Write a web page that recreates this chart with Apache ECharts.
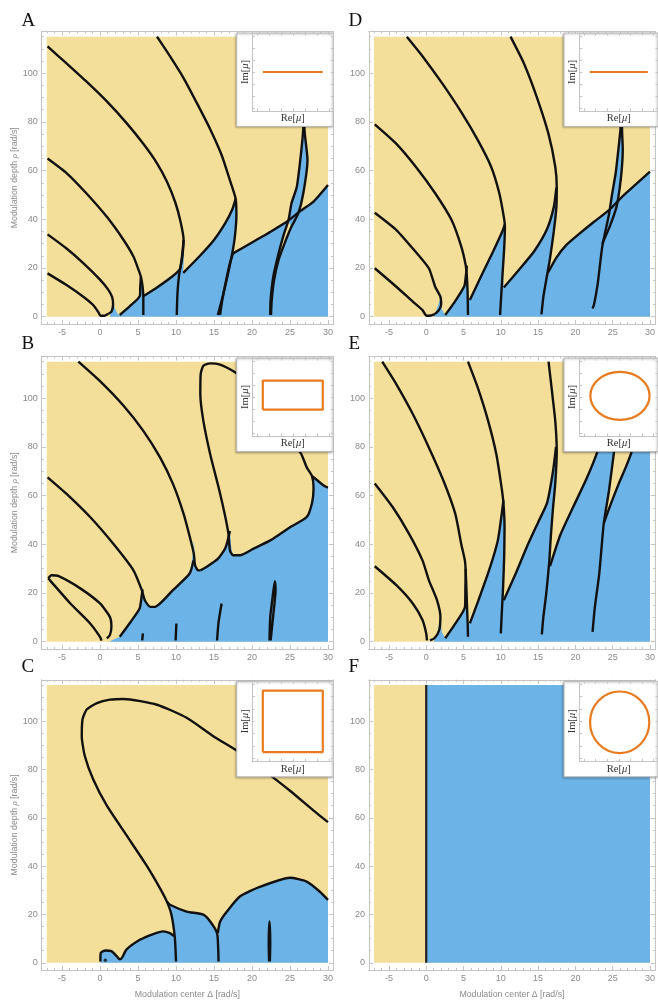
<!DOCTYPE html>
<html><head><meta charset="utf-8">
<script src="https://cdn.jsdelivr.net/npm/echarts@6/dist/echarts.min.js"></script>
<style>html,body{margin:0;padding:0;background:#fff}#c{width:658px;height:1000px}</style>
</head><body><div id="c"></div>
<script>
// ---------- tick labels ----------
const xTicks = [-5, 0, 5, 10, 15, 20, 25, 30];
const yTicks = [0, 20, 40, 60, 80, 100];
const insetTicks = [-1.2, -0.8, -0.4, 0, 0.4, 0.8, 1.2];
const fieldRect = [[-7, 0], [30, 0], [30, 115], [-7, 115]];

// ---------- panel A ----------
const blueA = [[1.3,0],[1.55,4],[1.72,7.5],[1.9,4],[2.3,1.2],[2.6,0.7],[3.9,4.2],[5.25,8.6],[5.3,12.5],[5.38,16.4],[5.6,12.5],[5.75,8.5],[7.5,12],[9.5,16.5],[10.5,19.5],[10.8,25],[11.0,31.5],[11.05,25],[10.95,18],[13,24.5],[15,31.5],[16.5,38.5],[17.4,44],[17.85,48.5],[17.95,42],[17.75,33],[17.5,26],[20,30.5],[22.5,35],[24.8,39.5],[25.2,46.6],[25.9,53.4],[26.5,68.5],[26.75,77.4],[26.8,85],[27.0,85],[26.9,77.4],[27.3,64.4],[26.75,50.7],[26.4,43.5],[28.1,47.3],[30,54.1],[30,0]];
const lensA = [[23.3,22],[23.6,26.5],[24.1,32.9],[24.75,39.2],[25.2,37],[24.3,30.2],[23.6,24]];
const a1 = [[-6.9,17.8],[-4.4,13],[-2.2,8.2],[-0.9,4.8],[-0.2,1.8],[0.05,0.4],[0.6,0.4],[1.1,1.2]];
const a2 = [[-6.9,33.8],[-4.4,28],[-2.2,22],[0,15.2],[1.1,11],[1.6,8],[1.72,5],[1.5,2],[1.1,1.2]];
const a3 = [[-6.9,65],[-4.4,59],[-1.8,50.7],[0.9,41],[3.1,31.5],[4.4,24.7],[5.1,19],[5.38,16.4],[5.6,12.5],[5.7,8],[5.7,0.7]];
const a4 = [[-6.9,111],[-4.4,104],[-1.8,96.6],[0.9,88.4],[3.5,79.5],[5.7,71],[7.5,63],[8.8,55.5],[9.9,47],[10.6,39],[11.0,31.5],[10.8,24],[10.4,17],[10.2,10],[10.1,0.7]];
const a5 = [[7.5,115],[9.2,107],[11,98],[12.7,88],[14.5,77],[16,66.4],[17.1,56],[17.85,48.5],[17.95,42],[17.75,33],[17.4,26],[16.8,17],[16.2,9],[15.7,3],[15.5,0.7]];
const a5b = [[15.8,0.7],[16.1,7],[16.6,15],[17.1,22],[17.5,26]];
const a6a = [[2.6,0.7],[3.9,4.2],[5.25,8.6],[5.3,12.5],[5.38,16.4]];
const a6b = [[5.75,8.5],[7.5,12],[9.5,16.5],[10.5,19.5],[10.8,25],[11.0,31.5]];
const a6c = [[10.95,18],[13,24.5],[15,31.5],[16.5,38.5],[17.4,44],[17.85,48.5]];
const a6d = [[17.5,26],[20,30.5],[22.5,35],[24.8,39.5],[26.4,43.5],[28.1,47.3],[30,54.1]];
const a7 = [[26.8,85],[26.75,77.4],[26.5,68.5],[25.9,53.4],[25.2,46.6],[24.8,39.7],[24.1,32.9],[23.5,26],[22.8,16.4],[22.45,6.9],[22.4,0.7]];
const a8 = [[27.0,85],[26.9,77.4],[27.3,64.4],[26.75,50.7],[26.1,42.5],[25.2,37],[24.3,30.2],[23.5,23.3],[22.9,15],[22.6,6.9],[22.5,0.7]];

// ---------- panel B ----------
const blueB = [[1.2,0],[2.0,1.2],[2.6,2],[4.0,8],[5.2,13.5],[5.45,18],[5.6,21.5],[5.8,18],[6.0,16],[6.6,14.3],[7.2,14.3],[9.6,21.2],[11.5,27],[12.0,31],[12.2,36],[12.35,41.6],[12.45,36],[12.5,31.5],[12.8,29.5],[13.2,29.3],[14,30.7],[15.5,34],[16.5,38.5],[17.0,43],[17.1,45.5],[17.2,41],[17.35,37],[17.7,35.3],[18.4,35.5],[20.2,38.2],[22.4,41.6],[25,47],[27.2,51.2],[27.9,57],[28.1,63],[27.9,68],[28.5,66.5],[29.6,63.8],[30,63.3],[30,0]];
const lensB = [[22.7,15],[22.95,24],[23.05,19],[22.9,15]];
const b1 = [[-2.85,115],[0,107],[3.1,96.9],[5.7,86.6],[7.9,75.7],[9.6,64.8],[11,52.5],[11.9,42],[12.35,36],[12.5,31.5],[12.9,29.3],[13.2,29.3]];
const b2 = [[19,108],[17.5,111.2],[15.8,113.8],[14.5,114.3],[13.6,113.3],[13.25,110],[13.2,101.6],[13.6,90.7],[14.5,77],[15.6,63.4],[16.4,52.5],[16.9,44.3],[17.1,37.5],[17.5,35.5],[18.4,35.5],[20.2,38.2],[22.4,41.6],[25,47],[27.2,51.2],[27.9,57],[28.1,63],[27.9,68],[27.2,71.6],[26.5,77],[25.8,80]];
const b3 = [[-6.9,67.5],[-4.4,60.7],[-1.3,51.2],[1.75,40.2],[4.4,29.3],[5.5,21.2],[5.9,17],[6.6,14.3],[7.2,14.3],[9.6,21.2],[11.8,28],[12.3,33.4]];
const bRight = [[27.9,68],[28.5,66.5],[29.6,63.8],[30,63.3]];
const bDiag1 = [[2.6,2],[4.0,8],[5.2,13.5],[5.45,18],[5.6,21.5]];
const bDiag2 = [[13.2,29.3],[14,30.7],[15.5,34],[16.5,38.5],[17.1,45.5]];
const bLoopU = [[-6.8,26],[-6.4,27.3],[-5.5,27],[-2.6,21.9],[0,15.7],[1.3,10.2],[1.5,6.1],[1.3,2.7],[0.9,1.4]];
const bLoopL = [[-6.8,26],[-6.6,25.3],[-3.9,15.7],[-1.3,7.5],[0,2],[0.2,0.4]];
const bSeg1 = [[5.55,0.5],[5.65,3.4]];
const bSeg2 = [[9.95,0.5],[10.05,7.5]];
const bSeg3 = [[15.4,0.5],[15.6,8],[16,15.7]];
const bLens = [[22.3,0.5],[22.4,10],[22.7,18],[23.0,24.8],[23.1,21],[22.9,14],[22.6,5],[22.45,0.5]];

// ---------- panel C ----------
const blueC = [[0.05,0],[0.1,4.1],[0.7,5.1],[1.5,4.8],[2.2,2.7],[2.6,1.4],[2.9,2.1],[3.5,5.5],[5.3,9.6],[7,11.9],[8.3,13],[9.2,12.3],[9.75,11],[9.4,19.9],[8.8,25.3],[9.2,24],[11.4,21.2],[13.6,19.9],[14.5,17.1],[15.4,12.3],[15.6,11.6],[15.8,17],[16.7,21.2],[18.4,27.4],[21.1,31.5],[25,35.2],[27.2,33.6],[28.9,29.5],[30,26],[30,0]];
const c1 = [[30,58.2],[28.1,63],[25,71.2],[21.9,78.8],[18.4,87],[14.9,93.8],[11.4,101.4],[7.5,106.8],[3.1,109.2],[1.3,108.9],[-0.4,107.5],[-1.75,104.8],[-2.3,100.7],[-2.4,93.8],[-2,85.6],[-0.9,76],[0.9,65],[3.5,52.7],[6.1,40.4],[7.9,30.8],[8.8,25.3],[9.4,19.9],[9.85,10.3],[10,0.5]];
const cDome1 = [[0.05,0.5],[0.1,4.1],[0.7,5.1],[1.5,4.8],[2.2,2.7],[2.6,1.4],[2.9,2.1],[3.5,5.5],[5.3,9.6],[7,11.9],[8.3,13],[9.2,12.3],[9.75,11]];
const cDome2 = [[8.8,25.3],[9.2,24],[11.4,21.2],[13.6,19.9],[14.5,17.1],[15.4,12.3],[15.55,6],[15.6,0.5]];
const cDome3 = [[15.5,12.3],[15.8,17],[16.7,21.2],[18.4,27.4],[21.1,31.5],[25,35.2],[27.2,33.6],[28.9,29.5],[30,26]];
const cLens = [[22.25,0.5],[22.2,8],[22.3,17.1],[22.4,8],[22.35,0.5]];
const cDot = [[0.7,1]];

// ---------- panel D ----------
const blueD = [[1.0,0],[1.4,3],[1.9,7.5],[2.1,3],[2.55,0.7],[3.8,6],[5.1,12.5],[5.3,16.4],[5.45,21],[5.55,14],[5.6,7],[5.85,6.9],[7.5,17.5],[9,27],[10.2,35],[10.55,38],[10.45,28],[10.3,18],[10.4,12],[12.5,19.5],[14.5,27],[16.2,36],[17.1,45],[17.45,53],[17.45,45],[17.1,35],[16.6,24],[16.3,18],[17.5,24.5],[18.8,29.5],[20.5,34],[22.5,39],[24.5,43],[24.9,50],[25.4,59],[25.9,72.6],[26.1,85],[26.3,85],[26.35,68.5],[26.2,60],[25.9,52],[25.7,47.5],[26.7,50.5],[28.5,55.5],[30,59.6],[30,0]];
const d1 = [[-6.9,19.9],[-4,12.3],[-1.8,6.2],[-0.5,2.7],[0.05,0.4],[0.6,0.5],[1.2,1.2]];
const d2 = [[-6.9,42.7],[-4,35.6],[-1.8,28],[0.35,19.9],[1.2,12.3],[1.9,8.2],[2.0,5],[1.7,2.7],[1.2,1.2]];
const d3 = [[-6.9,79],[-4,71],[-1.4,61.6],[1.2,50.7],[3.4,39.7],[4.7,28.8],[5.3,21],[5.45,16.4],[5.55,10],[5.6,0.7]];
const d4 = [[-2.6,115],[-0.5,107],[2.1,96],[4.7,84],[6.9,72.6],[8.7,61.6],[9.8,50.7],[10.4,41],[10.55,37],[10.45,28],[10.2,16],[10.0,6],[9.9,0.7]];
const d5 = [[11.3,115],[13.1,104],[14.8,90.4],[16.4,75],[17.3,61.6],[17.5,53],[17.45,45],[17.1,35],[16.6,24],[16.2,17],[15.7,8],[15.45,1]];
const dd1 = [[2.55,0.7],[3.8,6],[5.1,12.5],[5.3,16.4],[5.45,21]];
const dd2 = [[5.85,6.9],[7.5,17.5],[9,27],[10.2,35],[10.55,38]];
const dd3 = [[10.4,12],[12.5,19.5],[14.5,27],[16.2,36],[17.1,45],[17.45,53]];
const dd4 = [[16.3,18],[17.5,24.5],[18.8,29.5],[20.5,34],[22.5,39],[24.6,44],[25.7,47.5],[26.7,50.5],[28.5,55.5],[30,59.6]];
const d6 = [[26.1,85],[26.05,77.4],[25.9,72.6],[25.4,59],[24.9,50],[24.5,42],[23.6,28.8],[23.0,13.7],[22.5,5],[22.3,3.4]];
const d7 = [[26.3,85],[26.25,77.4],[26.35,68.5],[26.2,60],[25.9,52],[25.5,45],[24.6,37],[23.6,30]];

// ---------- panel E ----------
const blueE = [[1.0,0],[1.5,4],[1.9,9],[2.1,4],[2.55,1.4],[3.8,7],[5.2,14.3],[5.25,22],[5.3,30],[5.45,22],[5.55,12],[5.6,7.5],[5.85,7.5],[7,17],[8.5,30],[9.6,41.6],[10.1,52],[10.35,58],[10.5,47],[10.45,35],[10.35,24],[10.4,17],[12,28],[13.5,39],[15,49],[16.2,57],[17.0,70],[17.4,80],[17.5,78],[17.3,65],[17.0,55],[16.7,43],[16.6,31],[18,44],[19.7,55.3],[21.5,67],[23,78.5],[23.4,84],[25.7,84],[25.2,78.5],[24.5,62],[23.85,49],[24.8,57],[25.8,64.8],[26.8,72],[27.6,78.5],[28.1,84],[30,84],[30,0]];
const e1 = [[-6.9,31],[-4,23.2],[-1.8,15.7],[-0.5,8.9],[0,3.4],[0.1,0.5]];
const e2 = [[-6.9,65],[-4.5,55.3],[-2.3,44.3],[-0.5,33.4],[0.35,25.3],[1.45,17],[1.9,10.2],[1.75,4.8],[1.1,1.4],[0.5,0.5]];
const e3 = [[-5.9,115],[-4,105.7],[-1.8,93.5],[0.35,79.8],[2.3,66.2],[3.9,52.5],[4.7,40],[5.2,33],[5.35,25],[5.45,16],[5.55,8],[5.6,2]];
const e4 = [[5.6,115],[6.9,104.4],[8.3,90.7],[9.4,77],[10.1,63.4],[10.35,57],[10.5,47],[10.45,35],[10.3,22],[10.1,10],[10.0,3.4]];
const e5 = [[16.4,115],[16.8,104.4],[17.3,90.7],[17.5,78],[17.3,65],[17.0,55],[16.7,43],[16.5,33],[16.1,20],[15.7,10],[15.5,3]];
const e6 = [[25.6,88],[25.2,78.5],[24.5,62],[23.8,48.5],[23.2,28],[22.6,14],[22.3,4]];
const eg1 = [[2.55,1.4],[3.8,7],[5.2,14.3],[5.25,22],[5.3,30]];
const eg2 = [[5.85,7.5],[7,17],[8.5,30],[9.6,41.6],[10.1,52],[10.35,58]];
const eg3 = [[10.4,17],[12,28],[13.5,39],[15,49],[16.2,57],[17.0,70],[17.4,80]];
const eg4 = [[16.6,31],[18,44],[19.7,55.3],[21.5,67],[23,78.5],[23.4,84]];
const eg5 = [[23.85,49],[24.8,57],[25.8,64.8],[26.8,72],[27.6,78.5],[28.1,84]];

// ---------- panel F ----------
const blueF = [[0,0],[30,0],[30,115],[0,115]];
const fLine = [[0,0],[0,115]];

// ---------- insets (Re/Im of mu) ----------
const insetLine = [[-1,0],[1,0]];
const insetRect = [[-1,-0.42],[1,-0.42],[1,0.55],[-1,0.55],[-1,-0.42]];
const insetSquare = [[-1,-1],[1,-1],[1,1],[-1,1],[-1,-1]];
const insetEllipse = [[0.04,0.04,1.02,0.8]];   // cx, cy, rx, ry
const insetCircle = [[0.03,-0.03,1.02,1.0]];

// ---------- styling / layout ----------
const YELLOW = '#f3df99', BLUE = '#6cb3e8', INK = '#111', ORANGE = '#ea7a1e', FRAME = '#c4c4c4', LBL = '#8a8a8a';
const COLX0 = [100, 427.3], PXX = 7.6;
const ROWY0 = [316.7, 641.7, 965], PXY = 2.435;
const XMIN = -7.67, XMAX = 30.66, YMIN = -3, YMAX = 117.1;
const INSET_H = [93.4, 93.5, 95.5];

function range(a, b, s) { const r = []; for (let v = a; v <= b + 1e-9; v += s) r.push(+v.toFixed(4)); return r; }
const xMinor = range(-7, 30, 1), yMinor = range(0, 115, 5);

const panels = [
  {L:'A', col:0, row:0, blue:blueA, yel:[lensA], curves:[a1,a2,a3,a4,a5,a5b,a6a,a6b,a6c,a6d,a7,a8], inset:{kind:'line', d:insetLine}},
  {L:'B', col:0, row:1, blue:blueB, yel:[lensB], curves:[b1,b2,b3,bRight,bDiag1,bDiag2,bLoopU,bLoopL,bSeg1,bSeg2,bSeg3,bLens], inset:{kind:'line', d:insetRect}},
  {L:'C', col:0, row:2, blue:blueC, yel:[], curves:[c1,cDome1,cDome2,cDome3,cLens], dots:cDot, inset:{kind:'line', d:insetSquare}},
  {L:'D', col:1, row:0, blue:blueD, yel:[], curves:[d1,d2,d3,d4,d5,dd1,dd2,dd3,dd4,d6,d7], inset:{kind:'line', d:insetLine}},
  {L:'E', col:1, row:1, blue:blueE, yel:[], curves:[e1,e2,e3,e4,e5,e6,eg1,eg2,eg3,eg4,eg5], inset:{kind:'ell', d:insetEllipse}},
  {L:'F', col:1, row:2, blue:blueF, yel:[], curves:[], vline:fLine, inset:{kind:'ell', d:insetCircle}}
];

const grid = [], xAxis = [], yAxis = [], series = [], title = [];
const labelFont = {color: LBL, fontSize: 9, fontFamily: 'Liberation Sans, Arial, sans-serif'};
const serifName = {fontFamily: 'Liberation Serif, serif', fontSize: 10.5, color: '#333',
  rich: {i: {fontFamily: 'Liberation Serif, serif', fontSize: 10.5, color: '#333', fontStyle: 'italic'}}};

function mkAxis(list, gi, pos, min, max, ticks, len, showLabels, extra, z) {
  const ax = Object.assign({
    type: 'value', gridIndex: gi, position: pos, min, max, silent: true, z: z,
    axisLine: {show: true, onZero: false, lineStyle: {color: FRAME, width: 1}},
    axisTick: {show: true, inside: true, length: len, customValues: ticks, lineStyle: {color: FRAME, width: 1}},
    axisLabel: showLabels ? Object.assign({show: true, customValues: ticks, margin: 4}, labelFont) : {show: false},
    splitLine: {show: false}
  }, extra || {});
  list.push(ax);
  return list.length - 1;
}

function polySeries(pts, color, xi, yi, z) {
  return {type: 'custom', xAxisIndex: xi, yAxisIndex: yi, z, silent: true, animation: false,
    data: pts, encode: {x: 0, y: 1},
    renderItem: function (params, api) {
      if (params.dataIndex !== 0) return null;
      return {type: 'polygon', shape: {points: pts.map(p => api.coord(p))}, style: {fill: color, stroke: null}};
    }};
}
function lineSeries(pts, xi, yi, color, width, z, smooth) {
  return {type: 'line', xAxisIndex: xi, yAxisIndex: yi, data: pts, showSymbol: false, symbol: 'none',
    smooth: smooth, lineStyle: {color, width}, z, silent: true, animation: false};
}

panels.forEach(p => {
  const left = COLX0[p.col] + XMIN * PXX;
  const top = ROWY0[p.row] - YMAX * PXY;
  const gi = grid.length;
  grid.push({left, top, width: (XMAX - XMIN) * PXX, height: (YMAX - YMIN) * PXY, show: false});
  const xNameOpt = p.row === 2 ? {name: 'Modulation center Δ [rad/s]', nameLocation: 'middle', nameGap: 20,
    nameTextStyle: {color: LBL, fontSize: 8.8, fontFamily: 'Liberation Sans, Arial, sans-serif'}} : {};
  const yNameOpt = p.col === 0 ? {name: 'Modulation depth {i|ρ} [rad/s]', nameLocation: 'middle', nameGap: 23,
    nameTextStyle: {color: LBL, fontSize: 8.8, fontFamily: 'Liberation Sans, Arial, sans-serif',
      rich: {i: {color: LBL, fontSize: 8.8, fontStyle: 'italic', fontFamily: 'Liberation Serif, serif'}}}} : {};
  const xi = mkAxis(xAxis, gi, 'bottom', XMIN, XMAX, xTicks, 4, true, xNameOpt, 3);
  mkAxis(xAxis, gi, 'bottom', XMIN, XMAX, xMinor, 2, false, null, 3);
  mkAxis(xAxis, gi, 'top', XMIN, XMAX, xTicks, 4, false, null, 3);
  mkAxis(xAxis, gi, 'top', XMIN, XMAX, xMinor, 2, false, null, 3);
  const yi = mkAxis(yAxis, gi, 'left', YMIN, YMAX, yTicks, 4, true, yNameOpt, 3);
  mkAxis(yAxis, gi, 'left', YMIN, YMAX, yMinor, 2, false, null, 3);
  mkAxis(yAxis, gi, 'right', YMIN, YMAX, yTicks, 4, false, null, 3);
  mkAxis(yAxis, gi, 'right', YMIN, YMAX, yMinor, 2, false, null, 3);

  series.push(polySeries(fieldRect, YELLOW, xi, yi, 1));
  series.push(polySeries(p.blue, BLUE, xi, yi, 2));
  p.yel.forEach(y => series.push(polySeries(y, YELLOW, xi, yi, 3)));
  p.curves.forEach(c => series.push(lineSeries(c, xi, yi, INK, 2.4, 4, 0.2)));
  if (p.vline) series.push(lineSeries(p.vline, xi, yi, '#222', 2.2, 4, false));
  if (p.dots) series.push({type: 'scatter', xAxisIndex: xi, yAxisIndex: yi, data: p.dots, symbolSize: 3.5,
    itemStyle: {color: INK}, z: 4, silent: true, animation: false});

  // letter
  title.push({text: p.L, left: p.col === 0 ? 21.5 : 348.5, top: [12, 335, 658][p.row], padding: 0,
    textStyle: {fontFamily: 'Liberation Serif, serif', fontSize: 19, fontWeight: 'normal', color: '#111'}});

  // inset outer box
  const oLeft = left + 195, oTop = top + 1.5, oH = INSET_H[p.row];
  const go = grid.length;
  grid.push({left: oLeft, top: oTop, width: 96.6, height: oH, show: true, backgroundColor: '#fff',
    borderColor: '#b8b8b8', borderWidth: 1, z: 10, shadowColor: 'rgba(0,0,0,0.25)', shadowBlur: 2, shadowOffsetX: -1, shadowOffsetY: 1});
  xAxis.push({type: 'value', gridIndex: go, show: false, min: 0, max: 1});
  yAxis.push({type: 'value', gridIndex: go, show: false, min: 0, max: 1});
  // inset inner frame
  const gn = grid.length;
  grid.push({left: oLeft + 15.6, top: oTop, width: 81, height: oH - 15.5, show: false, z: 11});
  const ixi = mkAxis(xAxis, gn, 'bottom', -1.35, 1.35, insetTicks, 2.5, false,
    {name: 'Re[{i|μ}]', nameLocation: 'middle', nameGap: 2, nameTextStyle: serifName}, 12);
  mkAxis(xAxis, gn, 'top', -1.35, 1.35, insetTicks, 2.5, false, null, 12);
  const iyi = mkAxis(yAxis, gn, 'left', -1.3, 1.3, insetTicks, 2.5, false,
    {name: 'Im[{i|μ}]', nameLocation: 'middle', nameGap: 2, nameTextStyle: serifName}, 12);
  mkAxis(yAxis, gn, 'right', -1.3, 1.3, insetTicks, 2.5, false, null, 12);

  if (p.inset.kind === 'line') {
    series.push(lineSeries(p.inset.d, ixi, iyi, ORANGE, 2.2, 13, false));
  } else {
    series.push({type: 'custom', xAxisIndex: ixi, yAxisIndex: iyi, z: 13, silent: true, animation: false,
      data: p.inset.d,
      renderItem: function (params, api) {
        const c = api.coord([api.value(0), api.value(1)]);
        const s = api.size([api.value(2), api.value(3)]);
        return {type: 'path',
          shape: {pathData: 'M0,1A1,1,0,1,0,2,1A1,1,0,1,0,0,1Z', x: c[0] - s[0], y: c[1] - s[1], width: 2 * s[0], height: 2 * s[1], layout: 'cover'},
          style: {fill: null, stroke: ORANGE, lineWidth: 2.2}};
      }});
  }
});

const chart = echarts.init(document.getElementById('c'), null, {renderer: 'canvas', width: 658, height: 1000});
chart.setOption({animation: false, backgroundColor: '#fff', title, grid, xAxis, yAxis, series});
</script></body></html>
